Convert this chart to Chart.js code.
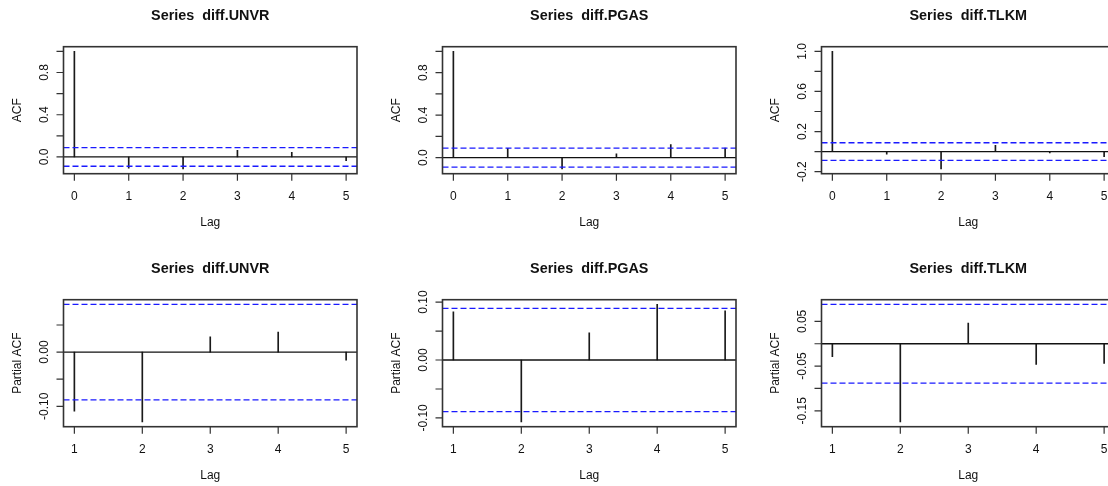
<!DOCTYPE html>
<html>
<head>
<meta charset="utf-8">
<title>ACF / PACF</title>
<script src="https://cdn.jsdelivr.net/npm/chart.js@4.4.1/dist/chart.umd.min.js"></script>
<style>
	html, body { margin: 0; padding: 0; background: #fff; }
	body { width: 1108px; height: 486px; position: relative; overflow: hidden; }
	.panel { position: absolute; width: 379px; height: 253px; }
</style>
</head>
<body>
<div class="panel" style="left:0px;top:0px"><canvas id="acfUNVR"></canvas></div>
<div class="panel" style="left:379px;top:0px"><canvas id="acfPGAS"></canvas></div>
<div class="panel" style="left:758px;top:0px"><canvas id="acfTLKM"></canvas></div>
<div class="panel" style="left:0px;top:253px"><canvas id="pacfUNVR"></canvas></div>
<div class="panel" style="left:379px;top:253px"><canvas id="pacfPGAS"></canvas></div>
<div class="panel" style="left:758px;top:253px"><canvas id="pacfTLKM"></canvas></div>
<script>
/* -------------------------------------------------------------
 * ------------------------------------------------------------- */
const acfLags = [ 0, 1, 2, 3, 4, 5 ];
const pacfLags = [ 1, 2, 3, 4, 5 ];

const acfUNVR = [ 1, -0.107, -0.114, 0.063, 0.044, -0.035 ];
const acfPGAS = [ 1, 0.088, -0.107, 0.035, 0.122, 0.09 ];
const acfTLKM = [ 1, -0.025, -0.174, 0.063, -0.013, -0.05 ];

const pacfUNVR = [ -0.109, -0.129, 0.028, 0.037, -0.015 ];
const pacfPGAS = [ 0.083, -0.107, 0.047, 0.096, 0.085 ];
const pacfTLKM = [ -0.029, -0.175, 0.046, -0.046, -0.044 ];

// 95% bounds drawn as blue dashed lines
const ciUNVR = 0.088;
const ciPGAS = 0.089;
const ciTLKM = 0.088;

// y ticks and the labels R kept (empty = tick without label)
const acfTicks = [ 0, 0.2, 0.4, 0.6, 0.8, 1.0 ];
const acfTickLabels = [ '0.0', '', '0.4', '', '0.8', '' ];
const acfTicksTLKM = [ -0.2, 0, 0.2, 0.4, 0.6, 0.8, 1.0 ];
const acfTickLabelsTLKM = [ '-0.2', '', '0.2', '', '0.6', '', '1.0' ];
const pacfTicksUNVR = [ -0.1, -0.05, 0, 0.05 ];
const pacfTickLabelsUNVR = [ '-0.10', '', '0.00', '' ];
const pacfTicksPGAS = [ -0.1, -0.05, 0, 0.05, 0.1 ];
const pacfTickLabelsPGAS = [ '-0.10', '', '0.00', '', '0.10' ];
const pacfTicksTLKM = [ -0.15, -0.1, -0.05, 0, 0.05 ];
const pacfTickLabelsTLKM = [ '-0.15', '', '-0.05', '', '0.05' ];

/* -------------------------------------------------------------
 * R-style frame: box, outside ticks, rotated y labels, titles
 * ------------------------------------------------------------- */
const FONT = '"Liberation Sans", Arial, sans-serif';

const rFrame = {
	id: 'rFrame',
	afterDraw( chart, args, opts ) {
		const { ctx, chartArea: a, scales } = chart;
		const x = scales.x;
		const y = scales.y;
		const cx = ( a.left + a.right ) / 2;
		const cy = ( a.top + a.bottom ) / 2;
		ctx.save();

		ctx.strokeStyle = '#333';
		ctx.lineWidth = 1.6;
		ctx.strokeRect( a.left, a.top, a.right - a.left, a.bottom - a.top );

		ctx.lineWidth = 1.2;
		ctx.beginPath();
		opts.yTicks.forEach( ( v ) => {
			const py = y.getPixelForValue( v );
			ctx.moveTo( a.left, py );
			ctx.lineTo( a.left - 7, py );
		} );
		opts.xTicks.forEach( ( v ) => {
			const px = x.getPixelForValue( v );
			ctx.moveTo( px, a.bottom );
			ctx.lineTo( px, a.bottom + 7 );
		} );
		ctx.stroke();

		ctx.fillStyle = '#111';
		ctx.textAlign = 'center';
		ctx.textBaseline = 'middle';
		ctx.font = '12px ' + FONT;
		opts.xTicks.forEach( ( v ) => {
			ctx.fillText( String( v ), x.getPixelForValue( v ), a.bottom + 23 );
		} );
		opts.yTicks.forEach( ( v, i ) => {
			const label = opts.yLabels[ i ];
			if ( ! label ) return;
			ctx.save();
			ctx.translate( a.left - 19, y.getPixelForValue( v ) );
			ctx.rotate( -Math.PI / 2 );
			ctx.fillText( label, 0, 0 );
			ctx.restore();
		} );

		ctx.fillText( 'Lag', cx, a.bottom + 49 );
		ctx.save();
		ctx.translate( a.left - 46, cy );
		ctx.rotate( -Math.PI / 2 );
		ctx.fillText( opts.yTitle, 0, 0 );
		ctx.restore();

		ctx.font = 'bold 14.4px ' + FONT;
		ctx.fillText( opts.title, cx, a.top - 31 );
		ctx.restore();
	}
};

function makePanel( id, lags, values, ci, yTicks, yLabels, yTitle, title ) {
	// R pads both axis ranges by 4%
	const xLo = Math.min( ...lags );
	const xHi = Math.max( ...lags );
	const xPad = ( xHi - xLo ) * 0.04;
	const yLo = Math.min( ...values, -ci );
	const yHi = Math.max( ...values, ci );
	const yPad = ( yHi - yLo ) * 0.04;
	const ends = [ xLo - xPad, xHi + xPad ];

	const hLine = ( level, color, width, dash ) => ( {
		type: 'line',
		data: ends.map( ( v ) => ( { x: v, y: level } ) ),
		borderColor: color,
		borderWidth: width,
		borderDash: dash,
		pointRadius: 0,
		fill: false
	} );

	return new Chart( document.getElementById( id ), {
		type: 'bar',
		data: {
			datasets: [
				{ ...hLine( ci, '#1a1aff', 1.3, [ 6, 3 ] ), order: 0 },
				{ ...hLine( -ci, '#1a1aff', 1.3, [ 6, 3 ] ), order: 0 },
				{ ...hLine( 0, '#111', 1.3, [] ), order: 1 },
				{
					type: 'bar',
					data: lags.map( ( l, i ) => ( { x: l, y: values[ i ] } ) ),
					backgroundColor: '#1a1a1a',
					borderWidth: 0,
					barThickness: 1,
					order: 2
				}
			]
		},
		options: {
			animation: false,
			responsive: true,
			maintainAspectRatio: false,
			layout: { padding: { left: 63.5, top: 46.7, right: 22, bottom: 79.3 } },
			scales: {
				x: { type: 'linear', display: false, offset: false, min: ends[ 0 ], max: ends[ 1 ] },
				y: { type: 'linear', display: false, min: yLo - yPad, max: yHi + yPad }
			},
			plugins: {
				legend: { display: false },
				tooltip: { enabled: false },
				rFrame: { xTicks: lags, yTicks, yLabels, yTitle, title }
			}
		},
		plugins: [ rFrame ]
	} );
}

makePanel( 'acfUNVR', acfLags, acfUNVR, ciUNVR, acfTicks, acfTickLabels, 'ACF', 'Series  diff.UNVR' );
makePanel( 'acfPGAS', acfLags, acfPGAS, ciPGAS, acfTicks, acfTickLabels, 'ACF', 'Series  diff.PGAS' );
makePanel( 'acfTLKM', acfLags, acfTLKM, ciTLKM, acfTicksTLKM, acfTickLabelsTLKM, 'ACF', 'Series  diff.TLKM' );
makePanel( 'pacfUNVR', pacfLags, pacfUNVR, ciUNVR, pacfTicksUNVR, pacfTickLabelsUNVR, 'Partial ACF', 'Series  diff.UNVR' );
makePanel( 'pacfPGAS', pacfLags, pacfPGAS, ciPGAS, pacfTicksPGAS, pacfTickLabelsPGAS, 'Partial ACF', 'Series  diff.PGAS' );
makePanel( 'pacfTLKM', pacfLags, pacfTLKM, ciTLKM, pacfTicksTLKM, pacfTickLabelsTLKM, 'Partial ACF', 'Series  diff.TLKM' );
</script>
</body>
</html>
